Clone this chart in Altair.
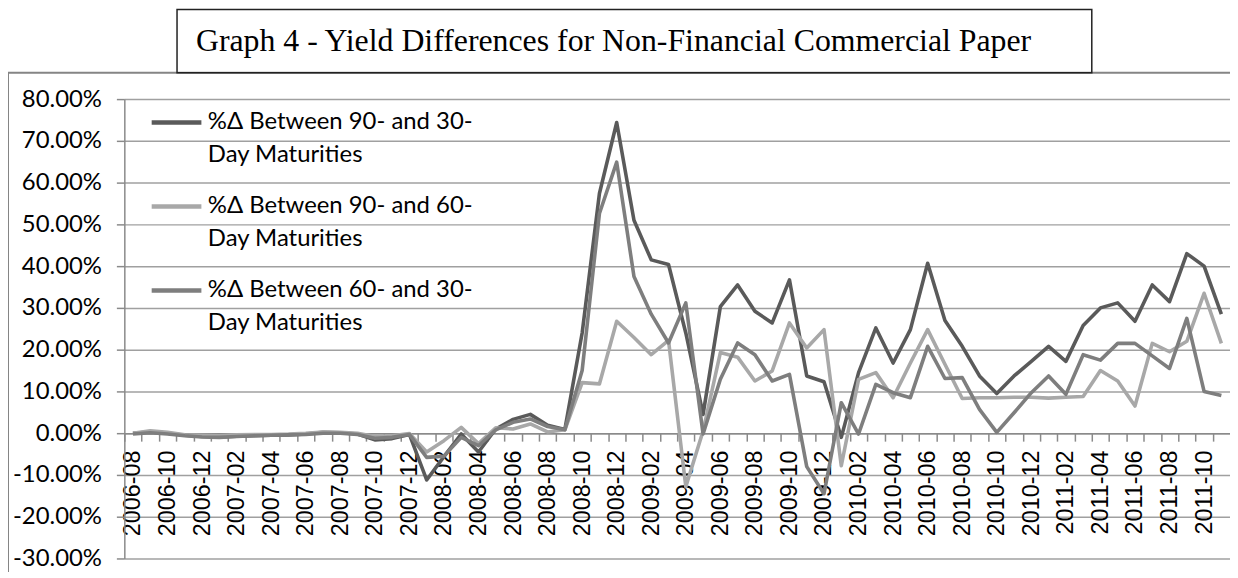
import altair as alt
import pandas as pd

title_text = "Graph 4 - Yield Differences for Non-Financial Commercial Paper"

months = [
    "2006-08", "2006-09", "2006-10", "2006-11", "2006-12",
    "2007-01", "2007-02", "2007-03", "2007-04", "2007-05", "2007-06",
    "2007-07", "2007-08", "2007-09", "2007-10", "2007-11", "2007-12",
    "2008-01", "2008-02", "2008-03", "2008-04", "2008-05", "2008-06",
    "2008-07", "2008-08", "2008-09", "2008-10", "2008-11", "2008-12",
    "2009-01", "2009-02", "2009-03", "2009-04", "2009-05", "2009-06",
    "2009-07", "2009-08", "2009-09", "2009-10", "2009-11", "2009-12",
    "2010-01", "2010-02", "2010-03", "2010-04", "2010-05", "2010-06",
    "2010-07", "2010-08", "2010-09", "2010-10", "2010-11", "2010-12",
    "2011-01", "2011-02", "2011-03", "2011-04", "2011-05", "2011-06",
    "2011-07", "2011-08", "2011-09", "2011-10", "2011-11",
]

series_names = [
    "%Δ Between 90- and 30- Day Maturities",
    "%Δ Between 90- and 60- Day Maturities",
    "%Δ Between 60- and 30- Day Maturities",
]
series_colors = ["#5a5a5a", "#a8a8a8", "#7e7e7e"]

# values in percent
d90_30 = [
    0.0, 0.3, 0.0, -0.5, -0.8, -0.9, -0.7, -0.6, -0.5, -0.4, -0.2,
    0.2, 0.1, -0.2, -1.6, -1.3, -0.3, -11.2, -5.6, -0.2, -4.5, 1.0,
    3.3, 4.5, 1.9, 0.9, 24.0, 57.4, 74.4, 51.0, 41.5, 40.4, 24.0,
    4.5, 30.3, 35.5, 29.2, 26.4, 36.7, 13.7, 12.3, -1.0, 14.5, 25.2,
    16.8, 24.8, 40.7, 27.0, 20.8, 13.7, 9.5, 13.7, 17.2, 20.8, 17.2,
    25.8, 30.0, 31.2, 26.8, 35.5, 31.5, 43.0, 40.0, 28.5,
]
d90_60 = [
    0.0, 0.6, 0.2, -0.4, -0.5, -0.6, -0.4, -0.3, -0.3, -0.2, 0.0,
    0.3, 0.2, 0.0, -0.8, -0.6, -0.1, -4.5, -1.8, 1.4, -2.5, 1.3,
    1.0, 2.2, 0.3, 0.8, 12.1, 11.8, 26.8, 22.9, 18.8, 22.2, -12.8,
    0.5, 19.3, 18.2, 12.5, 14.9, 26.4, 20.4, 24.8, -7.8, 12.9, 14.5,
    8.5, 16.8, 24.8, 16.5, 8.3, 8.5, 8.5, 8.6, 8.6, 8.4, 8.6,
    8.8, 15.0, 12.5, 6.5, 21.5, 19.5, 22.0, 33.5, 21.5,
]
d60_30 = [
    -0.2, 0.1, -0.2, -0.6, -0.9, -1.0, -0.8, -0.6, -0.5, -0.4, -0.3,
    0.0, 0.0, -0.3, -1.2, -1.0, -0.3, -5.8, -5.5, -1.0, -3.0, 0.8,
    2.6, 3.4, 1.6, 0.8, 15.0, 52.6, 64.9, 37.5, 28.5, 21.6, 31.2,
    -0.2, 12.9, 21.6, 18.8, 12.5, 14.1, -8.0, -14.5, 7.3, -0.2, 11.7,
    9.7, 8.5, 20.8, 13.1, 13.3, 5.7, 0.2, 4.9, 9.7, 13.7, 9.3,
    18.8, 17.5, 21.5, 21.5, 18.5, 15.5, 27.5, 10.0, 9.0,
]
y_ticks = [-30, -20, -10, 0, 10, 20, 30, 40, 50, 60, 70, 80]

df = pd.DataFrame({
    "month": months * 3,
    "series": [series_names[0]] * len(months)
    + [series_names[1]] * len(months)
    + [series_names[2]] * len(months),
    "value": d90_30 + d90_60 + d60_30,
})

W, H = 1112, 462
half_step = W / len(months) / 2

legend = alt.Legend(
    orient="none", legendX=25, legendY=-4, title=None,
    symbolType="stroke", symbolSize=2500, symbolStrokeWidth=4.5,
    labelFont="Lato", labelFontSize=24, labelColor="black", labelLimit=500,
    labelOffset=4, rowPadding=11.5, padding=0,
    labelExpr="[substring(datum.label, 0, 22), substring(datum.label, 23)]",
)

lines = alt.Chart(df).mark_line(strokeWidth=3.6, strokeJoin="round").encode(
    x=alt.X("month:O", sort=months,
            scale=alt.Scale(type="point", padding=0.5),
            axis=alt.Axis(
                title=None, labelAngle=270, labelFont="Liberation Sans",
                labelFontSize=23.5, labelColor="black", labelOverlap=False,
                labelExpr="parseInt(substring(datum.value, 5, 7)) % 2 == 0 ? datum.value : ''",
                tickSize=8, tickColor="#8a8a8a", tickWidth=1.5,
                tickOffset=-half_step, labelOffset=half_step, labelPadding=9,
                domainColor="#8a8a8a", domainWidth=1.5, offset=-126, grid=False,
            )),
    y=alt.Y("value:Q", scale=alt.Scale(domain=[-30, 80], nice=False, zero=False),
            axis=alt.Axis(
                title=None, values=y_ticks,
                labelExpr="replace(format(datum.value, '.2f'), '\u2212', '-') + '%'",
                labelFont="Lato", labelFontSize=24, labelColor="black",
                labelPadding=15, tickSize=8, tickColor="#8a8a8a", tickWidth=1.5,
                domainColor="#8a8a8a", domainWidth=1.5,
                gridColor="#a0a0a0", gridWidth=1.5,
            )),
    color=alt.Color("series:N", scale=alt.Scale(domain=series_names, range=series_colors),
                    legend=legend),
)

one = pd.DataFrame({"t": [title_text]})

frame = alt.Chart(one).mark_rect(fillOpacity=0, stroke="#858585", strokeWidth=2).encode(
    x=alt.value(-117), x2=alt.value(W + 40), y=alt.value(-26.5), y2=alt.value(H + 60)
)
title_box = alt.Chart(one).mark_rect(fillOpacity=0, stroke="#222222", strokeWidth=1.5).encode(
    x=alt.value(53), x2=alt.value(973), y=alt.value(-90), y2=alt.value(-26.5)
)
title = alt.Chart(one).mark_text(
    font="Liberation Serif", fontSize=32, color="black", align="left", baseline="alphabetic"
).encode(x=alt.value(72), y=alt.value(-48), text="t:N")

chart = alt.layer(frame, title_box, title, lines).properties(
    width=W, height=H,
    padding={"left": 117, "top": 90, "right": 0, "bottom": 12},
    autosize=alt.AutoSizeParams(type="none"),
).configure(
    view=alt.ViewConfig(strokeWidth=0),
    style={"guide-label": {"lineHeight": 33}},
)

chart.save("out.html", embed_options={"renderer": "svg", "actions": False})
